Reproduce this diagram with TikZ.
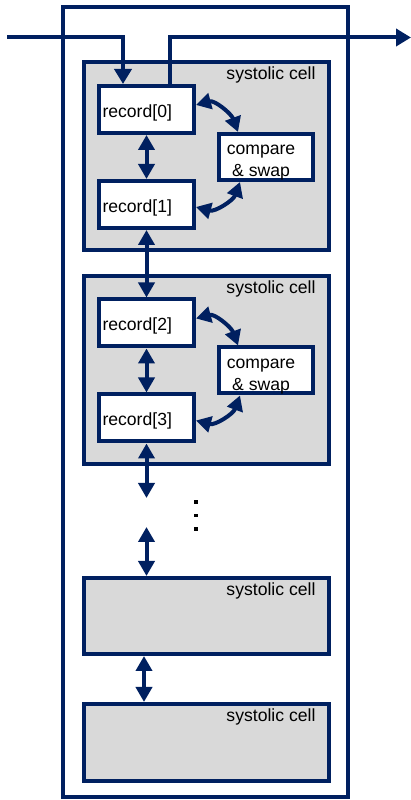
\documentclass[tikz,border=0pt]{standalone}
\usepackage{fontspec}
\setmainfont{Liberation Sans}
\usetikzlibrary{arrows.meta}

\definecolor{navy}{RGB}{0,32,96}
\definecolor{cellgray}{RGB}{217,217,217}

\tikzset{
  cell/.style={draw=navy, fill=cellgray, line width=4pt, minimum width=245pt, inner sep=0pt,
    label={[anchor=north east, xshift=-11.5pt, yshift=-3pt]north east:systolic cell}},
  record/.style={draw=navy, fill=white, line width=4pt, minimum width=95pt, minimum height=47pt,
    text width=88pt, inner xsep=3.5pt, text height=16pt, text depth=0pt, align=left},
  cmpbox/.style={draw=navy, fill=white, line width=4pt, minimum width=94pt, minimum height=46pt},
  cmptext/.style={label={[align=center, xshift=-5pt, yshift=-6pt]center:compare\\\& swap}},
  link/.style={draw=navy, line width=4pt, {Triangle[width=16pt,length=15pt]}-{Triangle[width=16pt,length=15pt]}},
  feed/.style={draw=navy, line width=4pt, -{Triangle[width=17pt,length=15pt]}}
}

\begin{document}
\begin{tikzpicture}[x=1pt, y=1pt, font=\fontsize{17.6}{22}\selectfont]
\useasboundingbox (0,0) rectangle (411,800);
\node[draw=navy, line width=4pt, minimum width=285pt, minimum height=790pt] (frame) at (205.5,398) {};

% the four cells
\node[cell, minimum height=187.5pt] (c1) at (206,644) {};
\node[cell, minimum height=188pt] (c2) at (206,430) {};
\node[cell, minimum height=76pt] (c3) at (206,184) {};
\node[cell, minimum height=77pt] (c4) at (206,57.5) {};

% records and compare units
\node[record] (r0) at (146.5,690.5) {record[0]};
\node[record] (r1) at (146.5,595.5) {record[1]};
\node[cmpbox, cmptext] (cs1) at (266,643) {};
\node[record] (r2) at (146.5,477) {record[2]};
\node[record] (r3) at (146.5,382) {record[3]};
\node[cmpbox, cmptext] (cs2) at (266,429.5) {};

\coordinate (in) at (7,762.5);
\coordinate (out) at (411,762.5);
\coordinate (gapA) at (146.5,302);
\coordinate (gapB) at (146.5,273);

% input and output
\draw[feed] (in) -| ([xshift=-23.5pt]r0.north);
\draw[feed] ([xshift=23.5pt]r0.north) |- (out);

% chain of records
\draw[link] (r0.south) -- (r1.north);
\draw[link] (r1.south) -- (r2.north);
\draw[link] (r2.south) -- (r3.north);
\draw[link] (r3.south) -- (gapA);
\draw[link] (gapB) -- (gapB |- c3.north);
\draw[link] ([xshift=-62pt]c3.south) -- ([xshift=-62pt]c4.north);

% compare & swap links
\draw[link] ([yshift=4.5pt]r0.east) to[out=15,in=110] ([xshift=-28pt]cs1.north);
\draw[link] ([yshift=-2.5pt]r1.east) to[out=-15,in=-110] ([xshift=-26pt]cs1.south);
\draw[link] ([yshift=4.5pt]r2.east) to[out=15,in=110] ([xshift=-28pt]cs2.north);
\draw[link] ([yshift=-2.5pt]r3.east) to[out=-15,in=-110] ([xshift=-26pt]cs2.south);

% dots
\foreach \y in {298,284.5,271}
  \fill (194,\y-1.75) rectangle ++(3.5,3.5);
\end{tikzpicture}
\end{document}
